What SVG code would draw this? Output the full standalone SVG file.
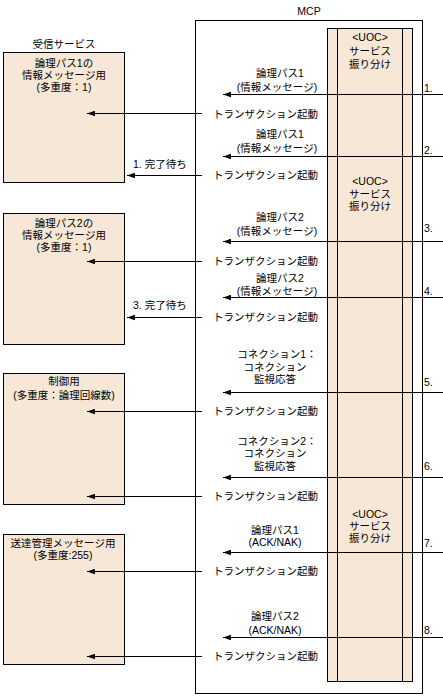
<svg xmlns="http://www.w3.org/2000/svg" width="443" height="698" viewBox="0 0 443 698">
<style>
text{font-family:"Liberation Sans","Noto Sans CJK JP",sans-serif;font-size:10.5px;fill:#000}
.c{text-anchor:middle}
.box{fill:#f7e7d7;stroke:#000;stroke-width:1}
.frame{fill:#fff;stroke:#000;stroke-width:1}
.ln{stroke:#000;stroke-width:1;fill:none;marker-end:url(#ah)}
.vl{stroke:#000;stroke-width:1}
</style>
<defs>
<marker id="ah" viewBox="0 0 8 6" refX="8" refY="3" markerWidth="8" markerHeight="6" markerUnits="userSpaceOnUse" orient="auto">
<path d="M0,0.2 L8,3 L0,5.8 Z" fill="#000"/>
</marker>
</defs>
<rect width="443" height="698" fill="#fff"/>

<g id="mcp">
<rect class="frame" x="195.5" y="20.5" width="227" height="673"/>
<text class="c" x="309" y="15">MCP</text>
</g>

<g id="uoc-column">
<rect class="box" x="327.5" y="28.5" width="85" height="653"/>
<line class="vl" x1="337.5" y1="28.5" x2="337.5" y2="681.5"/>
<line class="vl" x1="402.5" y1="28.5" x2="402.5" y2="681.5"/>
<text class="c" x="370" y="41">&lt;UOC&gt;</text>
<text class="c" x="370" y="55">サービス</text>
<text class="c" x="370" y="68">振り分け</text>
<text class="c" x="370" y="185">&lt;UOC&gt;</text>
<text class="c" x="370" y="198">サービス</text>
<text class="c" x="370" y="210">振り分け</text>
<text class="c" x="370" y="518">&lt;UOC&gt;</text>
<text class="c" x="370" y="530">サービス</text>
<text class="c" x="370" y="542">振り分け</text>
</g>

<g id="recv1">
<text class="c" x="64" y="48">受信サービス</text>
<rect class="box" x="3.5" y="52.5" width="121" height="130"/>
<text class="c" x="64" y="67">論理パス1の</text>
<text class="c" x="64" y="79">情報メッセージ用</text>
<text class="c" x="64" y="91">(多重度：1)</text>
</g>

<g id="recv2">
<rect class="box" x="3.5" y="213.5" width="121" height="131"/>
<text class="c" x="64" y="227">論理パス2の</text>
<text class="c" x="64" y="239">情報メッセージ用</text>
<text class="c" x="64" y="251">(多重度：1)</text>
</g>

<g id="ctrl">
<rect class="box" x="3.5" y="373.5" width="121" height="131"/>
<text class="c" x="64" y="385">制御用</text>
<text class="c" x="64" y="399">(多重度：論理回線数)</text>
</g>

<g id="ack">
<rect class="box" x="3.5" y="534.5" width="121" height="130"/>
<text class="c" x="63" y="547">送達管理メッセージ用</text>
<text class="c" x="63" y="559">(多重度:255)</text>
</g>

<g id="connectors">
<line class="ln" x1="443" y1="94.5" x2="223" y2="94.5"/>
<line class="ln" x1="443" y1="156.5" x2="223" y2="156.5"/>
<line class="ln" x1="443" y1="241.5" x2="223" y2="241.5"/>
<line class="ln" x1="443" y1="297.5" x2="223" y2="297.5"/>
<line class="ln" x1="443" y1="392.5" x2="223" y2="392.5"/>
<line class="ln" x1="443" y1="477.5" x2="223" y2="477.5"/>
<line class="ln" x1="443" y1="552.5" x2="223" y2="552.5"/>
<line class="ln" x1="443" y1="637.5" x2="223" y2="637.5"/>

<line class="ln" x1="202" y1="113.5" x2="87" y2="113.5"/>
<line class="ln" x1="202" y1="175.5" x2="127" y2="175.5"/>
<line class="ln" x1="202" y1="261.5" x2="87" y2="261.5"/>
<line class="ln" x1="202" y1="317.5" x2="127" y2="317.5"/>
<line class="ln" x1="202" y1="411.5" x2="87" y2="411.5"/>
<line class="ln" x1="202" y1="496.5" x2="87" y2="496.5"/>
<line class="ln" x1="202" y1="571.5" x2="87" y2="571.5"/>
<line class="ln" x1="202" y1="656.5" x2="87" y2="656.5"/>

<text x="424" y="92">1.</text>
<text x="424" y="154">2.</text>
<text x="424" y="232">3.</text>
<text x="424" y="295">4.</text>
<text x="424" y="386">5.</text>
<text x="424" y="470">6.</text>
<text x="424" y="547">7.</text>
<text x="424" y="634">8.</text>

<text class="c" x="280" y="77">論理パス1</text>
<text class="c" x="277" y="91">(情報メッセージ)</text>
<text class="c" x="280" y="138">論理パス1</text>
<text class="c" x="277" y="152">(情報メッセージ)</text>
<text class="c" x="280" y="221">論理パス2</text>
<text class="c" x="277" y="235">(情報メッセージ)</text>
<text class="c" x="280" y="282">論理パス2</text>
<text class="c" x="277" y="295">(情報メッセージ)</text>
<text class="c" x="277" y="358">コネクション1：</text>
<text class="c" x="275" y="371">コネクション</text>
<text class="c" x="275" y="383">監視応答</text>
<text class="c" x="277" y="445">コネクション2：</text>
<text class="c" x="275" y="457">コネクション</text>
<text class="c" x="275" y="470">監視応答</text>
<text class="c" x="275" y="534">論理パス1</text>
<text class="c" x="275" y="546">(ACK/NAK)</text>
<text class="c" x="275" y="620">論理パス2</text>
<text class="c" x="275" y="634">(ACK/NAK)</text>

<text x="213" y="118">トランザクション起動</text>
<text x="213" y="179">トランザクション起動</text>
<text x="213" y="265">トランザクション起動</text>
<text x="213" y="321">トランザクション起動</text>
<text x="213" y="415">トランザクション起動</text>
<text x="213" y="500">トランザクション起動</text>
<text x="213" y="575">トランザクション起動</text>
<text x="213" y="660">トランザクション起動</text>

<text x="133" y="168">1. 完了待ち</text>
<text x="133" y="309">3. 完了待ち</text>
</g>
</svg>
